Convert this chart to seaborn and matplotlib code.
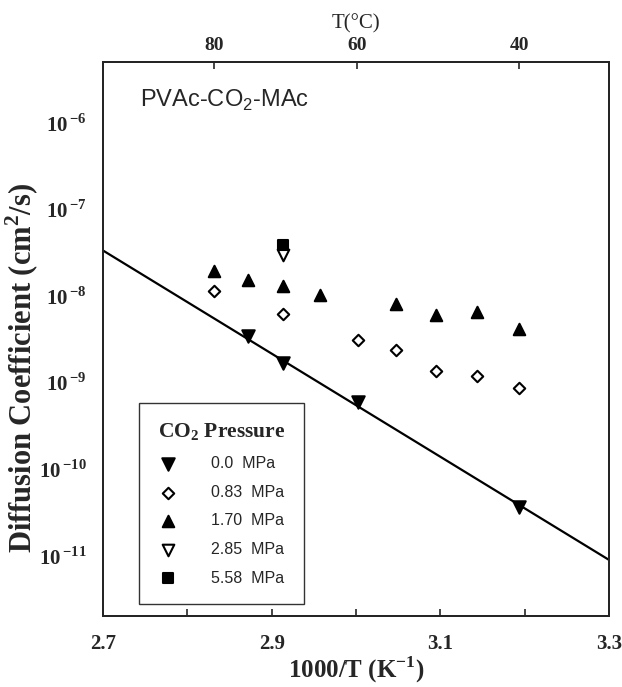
import numpy as np
import pandas as pd
import matplotlib
matplotlib.use("Agg")
import matplotlib.pyplot as plt
import matplotlib.ticker as mticker
import seaborn as sns

# ---------------- data ----------------
x_p000 = [2.872, 2.914, 3.002, 3.193]
y_p000 = [3.40e-9, 1.65e-9, 5.85e-10, 3.67e-11]

x_p083 = [2.832, 2.914, 3.002, 3.047, 3.095, 3.143, 3.193]
y_p083 = [1.13e-8, 6.21e-9, 3.06e-9, 2.34e-9, 1.34e-9, 1.19e-9, 8.6e-10]

x_p170 = [2.832, 2.872, 2.914, 2.957, 3.047, 3.095, 3.143, 3.193]
y_p170 = [1.92e-8, 1.53e-8, 1.28e-8, 1.03e-8, 8.09e-9, 5.93e-9, 6.47e-9, 4.17e-9]

x_p285 = [2.914]
y_p285 = [2.99e-8]

x_p558 = [2.914]
y_p558 = [3.90e-8]

fit_x = [2.7, 3.3]
fit_y = [3.33e-8, 8.9e-12]

series_labels = ["0.0  MPa", "0.83  MPa", "1.70  MPa", "2.85  MPa", "5.58  MPa"]
x_tick_major = [2.7, 2.9, 3.1, 3.3]
x_tick_minor = [2.8, 3.0, 3.2]
top_ticks_T = [80, 60, 40]

# ---------------- style ----------------
sns.set_style("white")
plt.rcParams["font.family"] = ["Liberation Serif", "DejaVu Serif"]
plt.rcParams["mathtext.fontset"] = "custom"
plt.rcParams["mathtext.rm"] = "Liberation Serif"
plt.rcParams["mathtext.bf"] = "Liberation Serif:bold"
plt.rcParams["mathtext.sf"] = "Liberation Sans"

fig = plt.figure(figsize=(6.22, 6.87), dpi=100)
ax = fig.add_axes([0.1656, 0.1033, 0.8135, 0.8064])
ax.set_yscale("log")

# fit line
sns.lineplot(x=fit_x, y=fit_y, color="black", linewidth=1.6, ax=ax, legend=False)

specs = [
    (x_p000, y_p000, "v", "black", 80),
    (x_p083, y_p083, "D", "white", 34),
    (x_p170, y_p170, "^", "black", 68),
    (x_p285, y_p285, "v", "white", 70),
    (x_p558, y_p558, "s", "black", 55),
]
for (xs, ys, mk, fc, s), lab in zip(specs, series_labels):
    sns.scatterplot(x=xs, y=ys, marker=mk, color=fc, edgecolor="black",
                    linewidth=1.5, s=s, label=lab, ax=ax, zorder=3)

ax.set_xlim(2.7, 3.3)
ax.set_ylim(2e-12, 5e-6)

# x ticks
ax.set_xticks(x_tick_major)
ax.set_xticklabels([f"{v:.1f}" for v in x_tick_major], fontweight="bold", fontsize=15)
ax.set_xticks(x_tick_minor, minor=True)
ax.tick_params(axis="x", which="both", direction="in", length=5, width=1.2,
               top=False, pad=13)

# y ticks
ax.yaxis.set_major_locator(mticker.LogLocator(base=10, numticks=20))
ax.yaxis.set_minor_locator(mticker.LogLocator(base=10, subs=np.arange(2, 10), numticks=20))
ax.yaxis.set_major_formatter(mticker.FuncFormatter(
    lambda v, p: r"$\mathbf{10}^{\,\mathbf{%d}}$" % int(round(np.log10(v)))))
ax.yaxis.set_minor_formatter(mticker.NullFormatter())
ax.tick_params(axis="y", which="major", direction="in", length=10, width=1.2,
               right=False, labelsize=15, pad=12)
ax.tick_params(axis="y", which="minor", direction="in", length=6, width=1.0, right=False)

for sp in ax.spines.values():
    sp.set_linewidth(1.4)
    sp.set_color("black")

ax.set_xlabel(r"1000/T (K$^{\mathbf{-1}}$)", fontsize=18, fontweight="bold", labelpad=0)
ax.set_ylabel(r"Diffusion Coefficient (cm$^{\mathbf{2}}$/s)", fontsize=22,
              fontweight="bold")
ax.yaxis.set_label_coords(-0.122, 0.448)

# top temperature axis
top = ax.twiny()
top.set_xlim(ax.get_xlim())
top.set_xticks([1000.0 / (t + 273.15) for t in top_ticks_T])
top.set_xticklabels([str(t) for t in top_ticks_T], fontweight="bold", fontsize=14)
top.tick_params(axis="x", direction="in", length=5, width=1.2, pad=6)
top.set_xlabel("T(°C)", fontsize=15, labelpad=6)
for sp in top.spines.values():
    sp.set_linewidth(1.4)

ax.text(0.073, 0.931, r"PVAc-CO$_\mathsf{2}$-MAc", transform=ax.transAxes,
        fontsize=17, family="Liberation Sans", va="center", ha="left")

leg = ax.legend(title=r"CO$_\mathbf{2}$ Pressure", loc="lower left",
                bbox_to_anchor=(0.0707, 0.0217, 0.326, 0.354), mode="expand",
                borderaxespad=0,
                frameon=True, fancybox=False, edgecolor="black",
                prop={"family": "Liberation Sans", "size": 11.5},
                title_fontproperties={"family": "Liberation Serif", "weight": "bold", "size": 15.5},
                handlelength=1.4, handletextpad=2.0, labelspacing=0.85, borderpad=1.15)
leg.get_frame().set_linewidth(1.0)

fig.savefig("out.png", dpi=100)
